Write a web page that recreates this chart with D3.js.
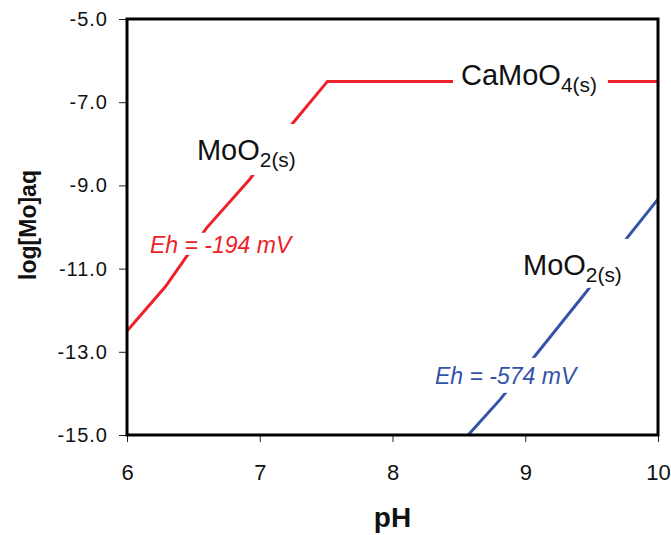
<!DOCTYPE html>
<html>
<head>
<meta charset="utf-8">
<script src="https://cdn.jsdelivr.net/npm/d3@7"></script>
<style>
  body { margin: 0; background: #fff; }
  text { font-family: Arial, "Liberation Sans", sans-serif; }
</style>
</head>
<body>
<div id="chart-area"></div>
<script>
// Eh = -194 mV boundary (red)
var redPH  = [6.0, 6.29, 6.6, 6.92, 7.25, 7.51, 10.0];
var redLog = [-12.5, -11.43, -10.02, -8.87, -7.5, -6.5, -6.5];
// Eh = -574 mV boundary (blue)
var bluePH  = [8.57, 8.81, 9.45, 9.77, 10.0];
var blueLog = [-15.0, -14.15, -11.6, -10.25, -9.33];

var xTicks = [6, 7, 8, 9, 10];
var yTicks = [-5, -7, -9, -11, -13, -15];

var margin = {top: 19, right: 13, bottom: 100, left: 127};
var width = 671 - margin.left - margin.right;
var height = 535 - margin.top - margin.bottom;

var red = "#ed2228";
var blue = "#3353a8";

var svg = d3.select("#chart-area")
  .append("svg")
    .attr("width", 671)
    .attr("height", 535);

var g = svg.append("g")
    .attr("transform", "translate(" + margin.left + ", " + margin.top + ")");

var x = d3.scaleLinear().domain([6, 10]).range([0, width]);
var y = d3.scaleLinear().domain([-15, -5]).range([height, 0]);

// axes
var bottomAxis = d3.axisBottom(x).tickValues(xTicks).tickSize(7).tickPadding(22)
  .tickFormat(d3.format("d"));
g.append("g")
  .attr("class", "bottom axis")
  .attr("transform", "translate(0, " + height + ")")
  .call(bottomAxis)
  .selectAll("text")
    .attr("font-size", "22px");

var leftAxis = d3.axisLeft(y).tickValues(yTicks).tickSize(8).tickPadding(11)
  .tickFormat(function(d) { return d.toFixed(1); });
g.append("g")
  .attr("class", "left axis")
  .call(leftAxis)
  .selectAll("text")
    .attr("font-size", "20px")
    .attr("letter-spacing", "1px");

g.selectAll(".axis .domain").remove();
g.selectAll(".axis line").attr("stroke", "#222").attr("stroke-width", 1);
g.selectAll(".axis text")
  .attr("fill", "#111")
  .style("font-family", "Arial, 'Liberation Sans', sans-serif");

// lines
var line = d3.line()
  .x(function(d) { return x(d[0]); })
  .y(function(d) { return y(d[1]); });

g.append("path")
  .datum(d3.zip(redPH, redLog))
  .attr("d", line)
  .attr("fill", "none")
  .attr("stroke", red)
  .attr("stroke-width", 3);

g.append("path")
  .datum(d3.zip(bluePH, blueLog))
  .attr("d", line)
  .attr("fill", "none")
  .attr("stroke", blue)
  .attr("stroke-width", 3);

// labels with white boxes that cut the lines
function label(px, py, main, sub, color, size, italic, pad) {
  var grp = g.append("g");
  var bg = grp.append("rect").attr("fill", "#fff");
  var t = grp.append("text")
    .attr("x", x(px))
    .attr("y", y(py))
    .attr("font-size", size + "px")
    .attr("fill", color)
    .attr("font-style", italic ? "italic" : "normal");
  t.append("tspan").text(main);
  if (sub) {
    t.append("tspan")
      .attr("dy", 7)
      .attr("font-size", (size * 0.72) + "px")
      .text(sub);
  }
  var b = t.node().getBBox();
  bg.attr("x", b.x - pad[3])
    .attr("y", b.y - pad[0])
    .attr("width", b.width + pad[1] + pad[3])
    .attr("height", b.height + pad[0] + pad[2]);
}

label(8.516, -6.59, "CaMoO", "4(s)", "#111", 29, false, [0, 11, 0, 8]);
label(6.527, -8.39, "MoO", "2(s)", "#111", 29, false, [10, 8, 4, 6]);
label(6.173, -10.62, "Eh = -194 mV", null, red, 23, true, [-1, 4, -3, 4]);
label(8.983, -11.15, "MoO", "2(s)", "#111", 29, false, [10, 10, 2, 6]);
label(8.32, -13.77, "Eh = -574 mV", null, blue, 23, true, [5, 4, 4, 4]);

// frame
g.append("rect")
  .attr("x", 0).attr("y", 0)
  .attr("width", width).attr("height", height)
  .attr("fill", "none")
  .attr("stroke", "#000")
  .attr("stroke-width", 3);

// axis titles
g.append("text")
  .attr("x", width / 2)
  .attr("y", height + 92)
  .attr("font-size", "28px")
  .attr("font-weight", "bold")
  .attr("text-anchor", "middle")
  .attr("fill", "#111")
  .text("pH");

g.append("text")
  .attr("x", -(height / 2) + 2)
  .attr("y", -91)
  .attr("font-size", "23px")
  .attr("font-weight", "bold")
  .attr("text-anchor", "middle")
  .attr("transform", "rotate(-90)")
  .attr("fill", "#111")
  .text("log[Mo]aq");
</script>
</body>
</html>
